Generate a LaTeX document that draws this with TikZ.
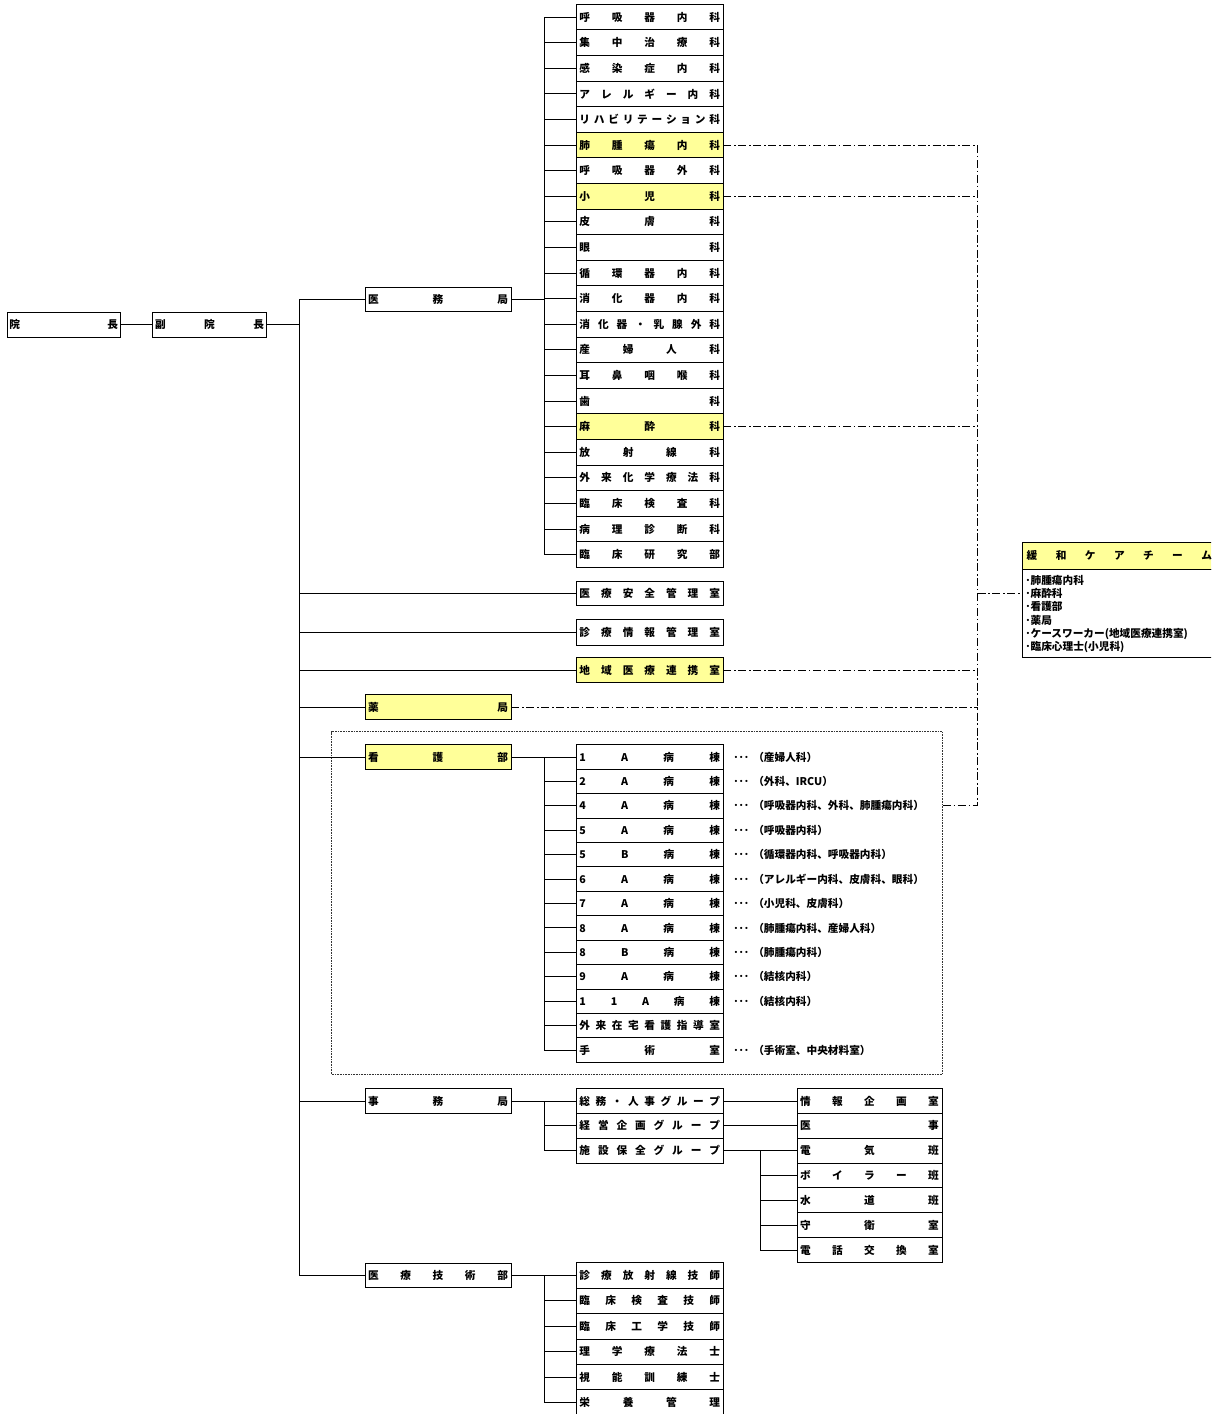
\documentclass[tikz,border=0pt]{standalone}
\usepackage{fontspec}
\setmainfont{Noto Sans CJK JP}
\definecolor{hl}{RGB}{255,255,153}
\makeatletter
\def\distchars#1{\edef\dist@tmp{#1}\expandafter\dist@a\dist@tmp\@nil}
\def\dist@a#1#2\@nil{#1\ifx\relax#2\relax\else\hfill\dist@a#2\@nil\fi}
\makeatother
\newcommand\spreadbox[2][105.4pt]{\hbox to #1{\distchars{#2}}}
\newcommand\cellfont{\fontsize{8}{9.6}\selectfont\bfseries}
\tikzset{
  base/.style={draw, line width=0.7pt, inner sep=0pt, font=\cellfont},
  dept/.style={base, minimum width=109.9pt, minimum height=19.2pt},
  ward/.style={base, minimum width=109.9pt, minimum height=18.3pt},
  grp/.style={base, minimum width=109.9pt, minimum height=18.6pt},
  rcol/.style={base, minimum width=108.75pt, minimum height=18.6pt},
  tech/.style={base, minimum width=109.9pt, minimum height=19.05pt},
  mid/.style={base, minimum width=109.5pt, minimum height=18.6pt},
  conn/.style={line width=0.7pt},
  dd/.style={line width=0.6pt, dash pattern=on 6pt off 2pt on 1.2pt off 2pt},
  dotbox/.style={draw=black!80, line width=0.7pt, dash pattern=on 0.6pt off 0.6pt, inner sep=0pt},
  ann/.style={anchor=west, inner sep=0pt, font=\cellfont},
  klist/.style={anchor=west, inner sep=0pt, font=\cellfont}
}
\begin{document}
\begin{tikzpicture}[x=0.75pt,y=-0.75pt]
\clip (0,0) rectangle (1211,1414);
\fill[white] (0,0) rectangle (1211,1414);

% nursing dotted area
\node[dotbox, minimum width=458.1pt, minimum height=256.7pt] (nurse) at (637.1,902.85) {};

% top boxes
\node[base, minimum width=85.1pt, minimum height=18.75pt] (inchou) at (63.7,324.8) {\spreadbox[81.5pt]{院長}};
\node[base, minimum width=85.8pt, minimum height=18.75pt] (fuku) at (209.5,324.8) {\spreadbox[81.7pt]{副院長}};

% second level
\node[mid] (imu) at (438,299.5) {\spreadbox[105pt]{医務局}};
\node[mid, fill=hl] (yaku) at (438,707.3) {\spreadbox[105pt]{薬局}};
\node[mid, fill=hl] (kango) at (438,757) {\spreadbox[105pt]{看護部}};
\node[mid] (jimu) at (438,1101) {\spreadbox[105pt]{事務局}};
\node[mid] (gijutsu) at (438,1275.5) {\spreadbox[105pt]{医療技術部}};

% departments
\foreach \t/\c [count=\i] in {呼吸器内科/white,集中治療科/white,感染症内科/white,アレルギー内科/white,リハビリテーション科/white,肺腫瘍内科/hl,呼吸器外科/white,小児科/hl,皮膚科/white,眼科/white,循環器内科/white,消化器内科/white,消化器・乳腺外科/white,産婦人科/white,耳鼻咽喉科/white,歯科/white,麻酔科/hl,放射線科/white,外来化学療法科/white,臨床検査科/white,病理診断科/white,臨床研究部/white}
  \node[dept, fill=\c] (d\i) at (649.75,{17.1+25.6*(\i-1)}) {\spreadbox{\t}};

% offices
\node[dept, minimum height=18.2pt] (anzen) at (649.75,593.8) {\spreadbox{医療安全管理室}};
\node[dept] (jouhou) at (649.75,632.5) {\spreadbox{診療情報管理室}};
\node[dept, minimum height=18.45pt, fill=hl] (chiiki) at (649.75,670) {\spreadbox{地域医療連携室}};

% wards
\foreach \t [count=\i] in {1A病棟,2A病棟,4A病棟,5A病棟,5B病棟,6A病棟,7A病棟,8A病棟,8B病棟,9A病棟,11A病棟,外来在宅看護指導室,手術室}
  \node[ward] (w\i) at (649.75,{757+24.42*(\i-1)}) {\spreadbox{\t}};
\foreach \i/\a in {1/（産婦人科）,2/（外科、IRCU）,3/（呼吸器内科、外科、肺腫瘍内科）,4/（呼吸器内科）,5/（循環器内科、呼吸器内科）,6/（アレルギー内科、皮膚科、眼科）,7/（小児科、皮膚科）,8/（肺腫瘍内科、産婦人科）,9/（肺腫瘍内科）,10/（結核内科）,11/（結核内科）,13/（手術室、中央材料室）}
  \node[ann] (a\i) at (733,{757+24.42*(\i-1)}) {･･･\hspace{3pt}\a};

% administration groups
\foreach \t [count=\i] in {総務・人事グループ,経営企画グループ,施設保全グループ}
  \node[grp] (g\i) at (649.75,{1101+24.83*(\i-1)}) {\spreadbox{\t}};
\foreach \t [count=\i] in {情報企画室,医事,電気班,ボイラー班,水道班,守衛室,電話交換室}
  \node[rcol] (r\i) at (869.5,{1101+24.83*(\i-1)}) {\spreadbox[104pt]{\t}};

% technical
\foreach \t [count=\i] in {診療放射線技師,臨床検査技師,臨床工学技師,理学療法士,視能訓練士,栄養管理}
  \node[tech] (t\i) at (649.75,{1275.5+25.4*(\i-1)}) {\spreadbox{\t}};

% palliative care team
\node[base, fill=hl, minimum width=145pt, minimum height=19.7pt] (kanwa) at (1119.35,555.85) {\spreadbox[139pt]{緩和ケアチーム}};
\node[base, minimum width=145pt, minimum height=66.2pt] (kanwaBody) at (1119.35,613.15) {};
\foreach \t [count=\i] in {･肺腫瘍内科,･麻酔科,･看護部,･薬局,･ケースワーカー(地域医療連携室),･臨床心理士(小児科)}
  \node[klist] (k\i) at (1025,{580+13.45*(\i-1)}) {\t};

% trunk connectors
\coordinate (T) at (299.3,0);
\coordinate (B) at (544.3,0);
\coordinate (C) at (760,0);
\coordinate (V) at (977.5,0);

\draw[conn] (inchou.east) -- (fuku.west);
\draw[conn] (fuku.east) -- (fuku.east -| T);
\draw[conn] (T |- imu.west) -- (T |- gijutsu.west);
\foreach \n in {imu,anzen,jouhou,chiiki,yaku,kango,jimu,gijutsu}
  \draw[conn] (T |- \n.west) -- (\n.west);

% department branch
\draw[conn] (imu.east) -- (imu.east -| B);
\draw[conn] (B |- d1.west) -- (B |- d22.west);
\foreach \i in {1,...,22} \draw[conn] (B |- d\i.west) -- (d\i.west);

% wards branch
\draw[conn] (kango.east) -- (kango.east -| B);
\draw[conn] (B |- w1.west) -- (B |- w13.west);
\foreach \i in {1,...,13} \draw[conn] (B |- w\i.west) -- (w\i.west);

% administration branch
\draw[conn] (jimu.east) -- (jimu.east -| B);
\draw[conn] (B |- g1.west) -- (B |- g3.west);
\foreach \i in {1,2,3} \draw[conn] (B |- g\i.west) -- (g\i.west);
\draw[conn] (g1.east) -- (r1.west);
\draw[conn] (g2.east) -- (r2.west);
\draw[conn] (g3.east) -- (r3.west);
\draw[conn] (C |- r3.west) -- (C |- r7.west);
\foreach \i in {4,...,7} \draw[conn] (C |- r\i.west) -- (r\i.west);

% technical branch
\draw[conn] (gijutsu.east) -- (gijutsu.east -| B);
\draw[conn] (B |- t1.west) -- (B |- t6.west);
\foreach \i in {1,...,6} \draw[conn] (B |- t\i.west) -- (t\i.west);

% palliative links
\draw[dd] (d6.east) -- (d6.east -| V);
\draw[dd] (d8.east) -- (d8.east -| V);
\draw[dd] (d17.east) -- (d17.east -| V);
\draw[dd] (chiiki.east) -- (chiiki.east -| V);
\draw[dd] (yaku.east) -- (yaku.east -| V);
\draw[dd] (nurse.east |- w3.east) -- (V |- w3.east);
\draw[dd] (V |- d6.east) -- (V |- w3.east);
\draw[dd] (V |- k2.west) -- (kanwaBody.west |- k2.west);
\end{tikzpicture}
\end{document}
